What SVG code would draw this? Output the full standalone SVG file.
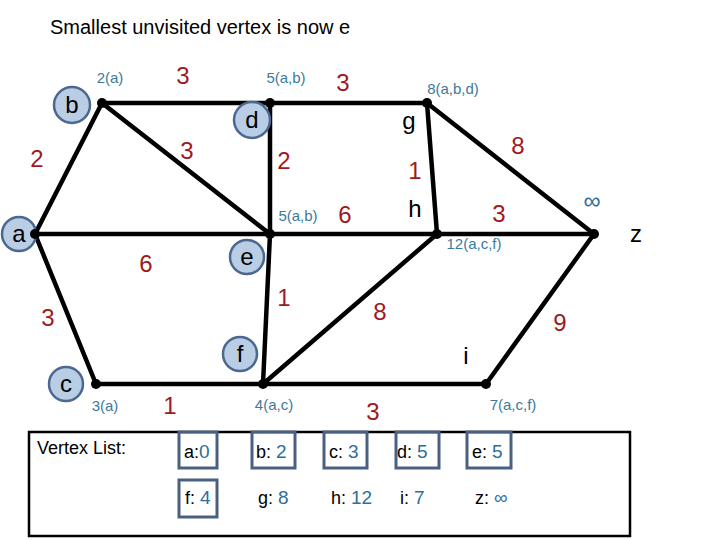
<svg xmlns="http://www.w3.org/2000/svg" width="720" height="540" viewBox="0 0 720 540">
<style>
text{font-family:"Liberation Sans",Arial,sans-serif}
.e{stroke:#000;stroke-width:4.5;fill:none;stroke-linecap:round}
.dot{fill:#000}
.nc{fill:#B9CDE5;stroke:#4A6890;stroke-width:2.5}
.nl{font-size:24px;fill:#000;text-anchor:middle;dominant-baseline:central}
.w{font-size:24px;fill:#A0191E;text-anchor:middle;dominant-baseline:central}
.s{font-size:15px;fill:#3D7A9A;text-anchor:middle;dominant-baseline:central}
.vl{font-size:18px;fill:#000}
.vv{fill:#2E6E9A;font-size:19px}
.vb{fill:none;stroke:#4A6080;stroke-width:3}
</style>
<rect width="720" height="540" fill="#fff"/>
<text x="50" y="34" font-size="20" fill="#000">Smallest unvisited vertex is now e</text>
<g id="connectors">
<line class="e" x1="102" y1="103" x2="427" y2="103"/>
<line class="e" x1="102" y1="103" x2="35" y2="234"/>
<line class="e" x1="102" y1="103" x2="270" y2="234"/>
<line class="e" x1="270" y1="103" x2="270" y2="234"/>
<line class="e" x1="427" y1="103" x2="437" y2="234"/>
<line class="e" x1="427" y1="103" x2="594" y2="234"/>
<line class="e" x1="35" y1="234" x2="594" y2="234"/>
<line class="e" x1="35" y1="234" x2="96" y2="384"/>
<line class="e" x1="270" y1="234" x2="263" y2="384"/>
<line class="e" x1="96" y1="384" x2="486" y2="384"/>
<line class="e" x1="263" y1="384" x2="437" y2="234"/>
<line class="e" x1="486" y1="384" x2="594" y2="234"/>
</g>
<g id="weights">
<text class="w" x="183" y="75">3</text>
<text class="w" x="343" y="82">3</text>
<text class="w" x="37" y="158">2</text>
<text class="w" x="187" y="150">3</text>
<text class="w" x="284" y="160">2</text>
<text class="w" x="415" y="170">1</text>
<text class="w" x="518" y="145">8</text>
<text class="w" x="345" y="214">6</text>
<text class="w" x="499" y="213">3</text>
<text class="w" x="146" y="263">6</text>
<text class="w" x="284" y="297">1</text>
<text class="w" x="380" y="311">8</text>
<text class="w" x="48" y="317">3</text>
<text class="w" x="560" y="322">9</text>
<text class="w" x="170" y="405">1</text>
<text class="w" x="373" y="411">3</text>
</g>
<g id="node-a"><circle class="nc" cx="19" cy="234" r="17"/><text class="nl" x="19" y="233">a</text><circle class="dot" cx="35" cy="234" r="5"/></g>
<g id="node-b"><circle class="nc" cx="72" cy="105" r="18"/><text class="nl" x="72" y="104">b</text><circle class="dot" cx="102" cy="103" r="5"/><text class="s" x="110" y="77">2(a)</text></g>
<g id="node-d"><circle class="nc" cx="252" cy="120" r="18"/><text class="nl" x="252" y="119">d</text><circle class="dot" cx="270" cy="103" r="5"/><text class="s" x="286" y="77">5(a,b)</text></g>
<g id="node-g"><text class="nl" x="409" y="120">g</text><circle class="dot" cx="427" cy="103" r="5"/><text class="s" x="453" y="88">8(a,b,d)</text></g>
<g id="node-h"><text class="nl" x="415" y="208">h</text><circle class="dot" cx="437" cy="234" r="5"/><text class="s" x="474" y="243">12(a,c,f)</text></g>
<g id="node-z"><text class="nl" x="636" y="233">z</text><circle class="dot" cx="594" cy="234" r="5"/><text x="592" y="200" font-size="24" fill="#2E6E9A" text-anchor="middle" dominant-baseline="central">∞</text></g>
<g id="node-e"><circle class="nc" cx="247" cy="257" r="17"/><text class="nl" x="247" y="256">e</text><circle class="dot" cx="270" cy="234" r="5"/><text class="s" x="298" y="215">5(a,b)</text></g>
<g id="node-f"><circle class="nc" cx="240" cy="354" r="17"/><text class="nl" x="240" y="353">f</text><circle class="dot" cx="263" cy="384" r="5"/><text class="s" x="274" y="404">4(a,c)</text></g>
<g id="node-c"><circle class="nc" cx="66" cy="384" r="17"/><text class="nl" x="66" y="383">c</text><circle class="dot" cx="96" cy="384" r="5"/><text class="s" x="105" y="405">3(a)</text></g>
<g id="node-i"><text class="nl" x="466" y="355">i</text><circle class="dot" cx="486" cy="384" r="5"/><text class="s" x="513" y="404">7(a,c,f)</text></g>
<g id="vertex-list">
<rect x="29" y="432" width="601" height="104" fill="none" stroke="#000" stroke-width="2.5"/>
<text class="vl" x="37" y="454">Vertex List:</text>
<rect class="vb" x="179" y="432" width="38" height="36"/>
<rect class="vb" x="252" y="432" width="43" height="36"/>
<rect class="vb" x="324" y="432" width="43" height="36"/>
<rect class="vb" x="396" y="432" width="43" height="36"/>
<rect class="vb" x="467" y="432" width="44" height="36"/>
<rect class="vb" x="179" y="480" width="38" height="37"/>
<text class="vl" x="184" y="458">a:<tspan class="vv">0</tspan></text>
<text class="vl" x="256" y="458">b: <tspan class="vv">2</tspan></text>
<text class="vl" x="329" y="458">c: <tspan class="vv">3</tspan></text>
<text class="vl" x="397" y="458">d: <tspan class="vv">5</tspan></text>
<text class="vl" x="472" y="458">e: <tspan class="vv">5</tspan></text>
<text class="vl" x="185" y="504">f: <tspan class="vv">4</tspan></text>
<text class="vl" x="258" y="504">g: <tspan class="vv">8</tspan></text>
<text class="vl" x="331" y="504">h: <tspan class="vv">12</tspan></text>
<text class="vl" x="400" y="504">i: <tspan class="vv">7</tspan></text>
<text class="vl" x="475" y="504">z: <tspan class="vv">∞</tspan></text>
</g>
</svg>
